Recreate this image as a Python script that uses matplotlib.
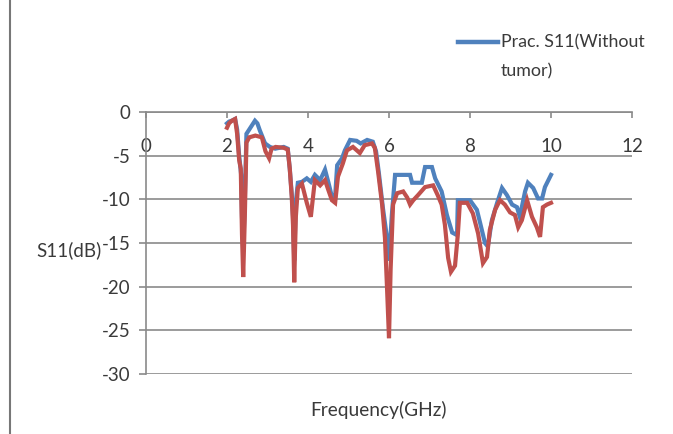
import matplotlib.pyplot as plt
from matplotlib.lines import Line2D

# values
freq_blue = [2.0, 2.05, 2.12, 2.2, 2.25, 2.3, 2.35, 2.37, 2.40, 2.44, 2.48, 2.55, 2.62, 2.69,
             2.75, 2.81, 2.94, 3.06, 3.19, 3.4, 3.5, 3.55, 3.6, 3.63, 3.66, 3.7, 3.75, 3.85,
             3.97, 4.07, 4.17, 4.3, 4.42, 4.5, 4.59, 4.67, 4.72, 4.84, 4.91, 5.04, 5.2, 5.3,
             5.46, 5.6, 5.68, 5.75, 5.85, 5.95, 6.0, 6.07, 6.15, 6.52, 6.57, 6.81, 6.89, 7.06,
             7.14, 7.3, 7.43, 7.56, 7.68, 7.7, 8.0, 8.17, 8.25, 8.37, 8.44, 8.54, 8.67, 8.79,
             8.91, 9.04, 9.16, 9.23, 9.36, 9.43, 9.56, 9.68, 9.78, 9.85, 10.0]
s11_blue = [-1.3, -1.1, -1.0, -0.8, -2.0, -5.0, -7.2, -12, -16, -10, -2.5, -2.0, -1.5, -1.0,
            -1.3, -2.1, -3.6, -4.0, -4.2, -4.0, -4.2, -6.5, -9.5, -12, -17, -10.3, -8.1, -8.0,
            -7.6, -8.0, -7.2, -7.8, -6.6, -8.0, -9.7, -9.7, -6.1, -5.3, -4.4, -3.2, -3.3, -3.6,
            -3.2, -3.4, -4.5, -7, -11, -14.4, -17, -11.8, -7.2, -7.2, -8.1, -8.1, -6.3, -6.3,
            -7.6, -9.1, -11.8, -13.8, -14.1, -10.1, -10.1, -11.2, -12.7, -15.0, -15.4, -12.4, -10.4, -8.7,
            -9.5, -10.6, -10.9, -12.0, -9.1, -8.1, -8.7, -9.9, -9.9, -8.6, -7.2]

freq_red = [2.0, 2.05, 2.12, 2.2, 2.25, 2.3, 2.34, 2.37, 2.40, 2.44, 2.48, 2.55, 2.7, 2.86,
            2.95, 3.04, 3.1, 3.2, 3.4, 3.5, 3.55, 3.6, 3.63, 3.66, 3.7, 3.75, 3.85, 3.97,
            4.07, 4.17, 4.3, 4.42, 4.5, 4.59, 4.67, 4.74, 4.86, 4.96, 5.11, 5.28, 5.4, 5.58,
            5.65, 5.73, 5.83, 5.9, 5.95, 6.0, 6.04, 6.1, 6.2, 6.35, 6.45, 6.52, 6.6, 6.72,
            6.89, 7.09, 7.2, 7.3, 7.38, 7.46, 7.53, 7.63, 7.7, 7.75, 7.93, 8.07, 8.2, 8.32,
            8.42, 8.49, 8.62, 8.74, 8.86, 8.99, 9.11, 9.19, 9.28, 9.41, 9.53, 9.65, 9.73, 9.8,
            9.9, 10.0]
s11_red = [-1.8, -1.3, -1.0, -0.8, -2.5, -5.5, -6.5, -14, -18.9, -12, -3.5, -2.9, -2.7, -2.9,
           -4.5, -5.3, -4.2, -4.0, -4.1, -4.3, -6.5, -9.8, -13, -19.5, -12, -8.7, -8.2, -10.4,
           -12.0, -7.8, -8.4, -7.8, -8.9, -10.1, -10.4, -7.4, -5.9, -4.4, -4.0, -4.7, -3.8, -3.6,
           -4.1, -6.8, -10.6, -14.4, -20, -25.9, -18, -10.6, -9.3, -9.1, -9.8, -10.6, -10.1, -9.5,
           -8.6, -8.4, -9.5, -10.6, -12.9, -16.7, -18.3, -17.6, -14, -10.4, -10.4, -11.6, -13.9, -17.3,
           -16.6, -13.5, -11.2, -10.1, -10.6, -11.5, -11.8, -13.2, -12.4, -10.1, -12.0, -13.2, -14.3, -10.9,
           -10.6, -10.4]

xticks = [0, 2, 4, 6, 8, 10, 12]
yticks = [0, -5, -10, -15, -20, -25, -30]

plt.rcParams['font.family'] = ['Lato', 'DejaVu Sans']
gray = '#8a8a8a'
txt = '#3a3a3a'

fig = plt.figure(figsize=(6.73, 4.34), dpi=100)
ax = fig.add_axes([146/673, 60/434, 486/673, 262/434])

ax.plot(freq_blue, s11_blue, color='#4f81bd', lw=3, solid_joinstyle='miter')
ax.plot(freq_red, s11_red, color='#c0504d', lw=3, solid_joinstyle='miter')

ax.set_xlim(0, 12)
ax.set_ylim(-30, 0)
ax.set_xticks(xticks)
ax.set_yticks(yticks)
ax.set_xticklabels([str(v) for v in xticks])
ax.set_yticklabels([str(v) for v in yticks])
ax.yaxis.grid(True, color=gray, lw=1.2)
ax.set_axisbelow(True)

ax.spines['bottom'].set_position(('data', 0))
ax.spines['top'].set_visible(False)
ax.spines['right'].set_visible(False)
for s in ['bottom', 'left']:
    ax.spines[s].set_color(gray)
    ax.spines[s].set_linewidth(1.2)

ax.tick_params(axis='x', direction='out', length=4, width=1.2, color=gray,
               pad=15, labelsize=13.5, labelcolor=txt)
ax.tick_params(axis='y', direction='out', length=5, width=1.2, color=gray,
               pad=6, labelsize=13.5, labelcolor=txt)

fig.text(36/673, 1 - 250/434, 'S11(dB)', ha='left', va='center', fontsize=13.5, color=txt)
fig.text(378/673, 1 - 410/434, 'Frequency(GHz)', ha='center', va='center', fontsize=13.8,
         color=txt)

# legend, only the blue entry is shown
fig.add_artist(Line2D([458/673, 498/673], [1 - 42/434, 1 - 42/434], color='#4f81bd', lw=3.2))
fig.text(501/673, 1 - 42/434, 'Prac. S11(Without', ha='left', va='center', fontsize=12.8,
         color=txt)
fig.text(501/673, 1 - 71/434, 'tumor)', ha='left', va='center', fontsize=12.8, color=txt)

# page border on the left
fig.add_artist(Line2D([10/673, 10/673], [0, 1], color='#777777', lw=1.5))

fig.savefig('out.png', dpi=100)
